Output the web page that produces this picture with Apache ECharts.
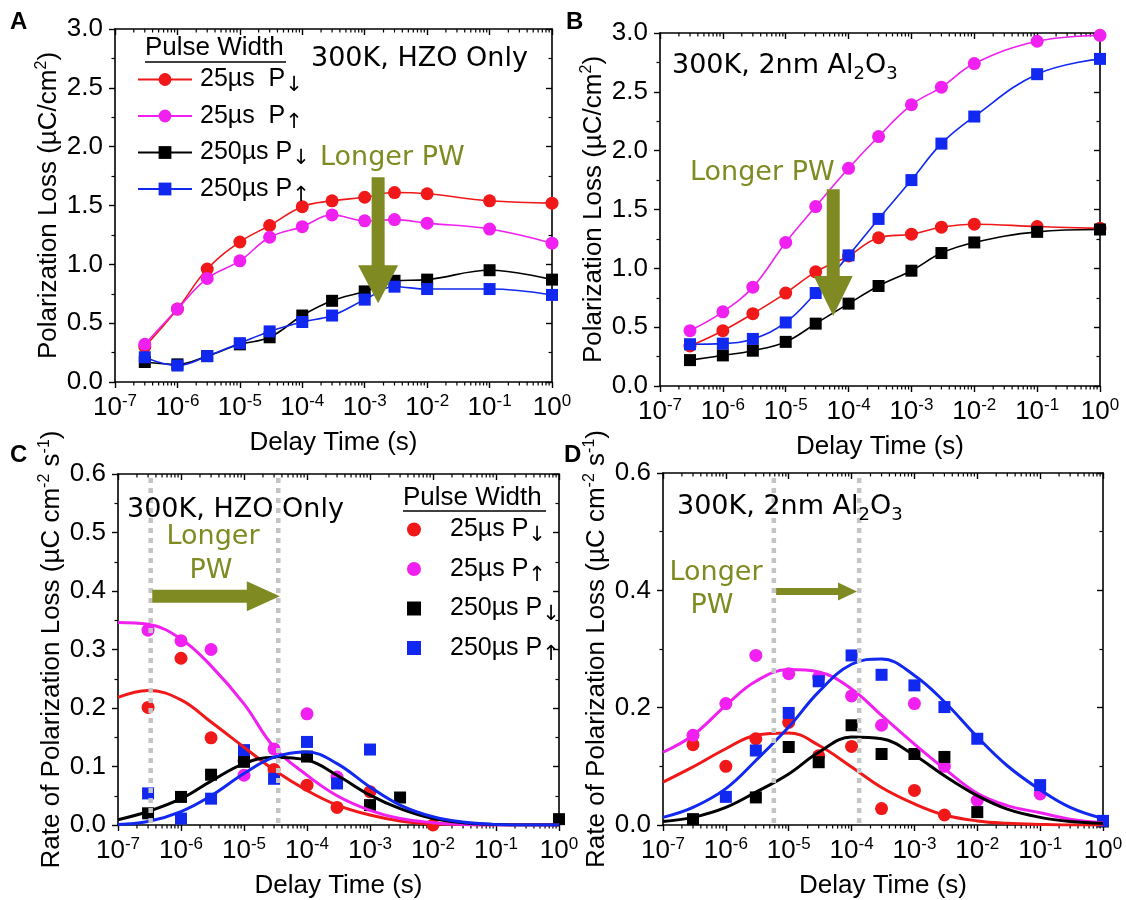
<!DOCTYPE html>
<html><head><meta charset="utf-8">
<script src="https://cdn.jsdelivr.net/npm/echarts@6/dist/echarts.min.js"></script>
<style>html,body{margin:0;padding:0;background:#fff}#c{width:1126px;height:900px}</style>
</head><body><div id="c"></div><script>
// ---------- data ----------
const xPoints = [3e-7, 1e-6, 3e-6, 1e-5, 3e-5, 1e-4, 3e-4, 1e-3, 3e-3, 1e-2, 1e-1, 1];
const fitX = [1e-7, 3e-7, 1e-6, 3e-6, 1e-5, 3e-5, 1e-4, 3e-4, 1e-3, 3e-3, 1e-2, 3e-2, 1e-1, 3e-1, 1];
const pulseLabels = ['25µs', '25µs', '250µs', '250µs'];
const polarity = ['↓', '↑', '↓', '↑'];

// Panel A: polarization loss, HZO only
const aDown25 = [0.30, 0.62, 0.96, 1.19, 1.33, 1.49, 1.54, 1.57, 1.61, 1.60, 1.54, 1.52];
const aUp25 = [0.32, 0.62, 0.88, 1.03, 1.23, 1.32, 1.42, 1.37, 1.38, 1.35, 1.30, 1.18];
const aDown250 = [0.17, 0.15, 0.22, 0.32, 0.38, 0.565, 0.69, 0.77, 0.86, 0.87, 0.95, 0.87];
const aUp250 = [0.21, 0.14, 0.22, 0.33, 0.43, 0.51, 0.565, 0.70, 0.81, 0.79, 0.79, 0.74];
// Panel B: polarization loss, 2nm Al2O3
const bDown25 = [0.34, 0.47, 0.615, 0.79, 0.97, 1.105, 1.26, 1.29, 1.35, 1.375, 1.355, 1.34];
const bUp25 = [0.47, 0.63, 0.84, 1.22, 1.525, 1.85, 2.12, 2.39, 2.54, 2.74, 2.93, 2.98];
const bDown250 = [0.22, 0.26, 0.30, 0.375, 0.53, 0.70, 0.85, 0.98, 1.13, 1.22, 1.31, 1.33];
const bUp250 = [0.355, 0.36, 0.40, 0.54, 0.79, 1.11, 1.42, 1.75, 2.06, 2.29, 2.65, 2.78];
// Panel C: rate of polarization loss, HZO only (points)
const cDown25 = [0.201, 0.285, 0.149, 0.11, 0.095, 0.068, 0.03, 0.057, null, 0.0, null, null];
const cUp25 = [0.333, 0.315, 0.30, 0.085, 0.13, 0.19, 0.082, null, null, null, null, null];
const cDown250 = [0.02, 0.048, 0.086, 0.108, null, 0.117, null, 0.034, 0.047, null, null, 0.01];
const cUp250 = [0.054, 0.011, 0.045, 0.128, 0.079, 0.142, 0.071, 0.129, null, null, null, null];
// Panel C fits
const cFitDown25 = [0.218, 0.230, 0.214, 0.176, 0.133, 0.094, 0.059, 0.034, 0.017, 0.007, 0.002, 0.001, 0, 0, 0];
const cFitUp25 = [0.346, 0.343, 0.318, 0.272, 0.207, 0.133, 0.085, 0.050, 0.025, 0.011, 0.004, 0.001, 0, 0, 0];
const cFitDown250 = [0.009, 0.023, 0.045, 0.075, 0.105, 0.116, 0.111, 0.085, 0.051, 0.028, 0.011, 0.004, 0.001, 0, 0];
const cFitUp250 = [0.001, 0.006, 0.023, 0.050, 0.088, 0.116, 0.125, 0.105, 0.065, 0.034, 0.014, 0.005, 0.001, 0, 0];
// Panel D: rate of polarization loss, 2nm Al2O3 (points)
const dDown25 = [0.137, 0.100, 0.147, 0.175, 0.118, 0.134, 0.028, 0.059, 0.017, null, null, null];
const dUp25 = [0.153, 0.207, 0.289, 0.258, 0.252, 0.22, 0.17, 0.207, 0.10, 0.042, 0.053, null];
const dDown250 = [0.01, null, 0.047, 0.133, 0.107, 0.17, 0.121, 0.121, 0.116, 0.022, null, 0.006];
const dUp250 = [null, 0.048, 0.127, 0.191, 0.245, 0.289, 0.256, 0.238, 0.201, 0.147, 0.068, 0.007];
// Panel D fits
const dFitDown25 = [0.073, 0.099, 0.130, 0.153, 0.157, 0.136, 0.099, 0.064, 0.036, 0.017, 0.007, 0.003, 0.001, 0, 0];
const dFitUp25 = [0.124, 0.153, 0.204, 0.245, 0.265, 0.261, 0.232, 0.187, 0.138, 0.096, 0.054, 0.033, 0.021, 0.010, 0.004];
const dFitDown250 = [0.006, 0.013, 0.030, 0.056, 0.087, 0.124, 0.150, 0.147, 0.119, 0.084, 0.050, 0.027, 0.013, 0.006, 0.003];
const dFitUp250 = [0.013, 0.030, 0.062, 0.110, 0.167, 0.227, 0.274, 0.283, 0.255, 0.210, 0.150, 0.101, 0.060, 0.030, 0.011];
// guide lines (delay times) in C and D
const cGuides = [3.3e-7, 3.5e-5];
const dGuides = [5.8e-6, 1.32e-4];

// ---------- style ----------
const F = '"Liberation Sans", Arial, sans-serif';
const FA = '"DejaVu Sans", Verdana, sans-serif';
const OLIVE = '#7f8b22';
const colors = ['#f01818', '#f020f0', '#000000', '#1028f0'];
const symbols = ['circle', 'circle', 'rect', 'rect'];
const grids = [
  {left: 115, top: 29, width: 437, height: 353},
  {left: 660, top: 33, width: 440, height: 353},
  {left: 118, top: 474, width: 441, height: 353},
  {left: 663, top: 473, width: 440, height: 353}
];
const yMax = [3, 3, 0.6, 0.6];
const yInt = [0.5, 0.5, 0.1, 0.2];
const yNames = [
  '{n|Polarization Loss (µC/cm}{sup|2}{n|)}',
  '{n|Polarization Loss (µC/cm}{sup|2}{n|)}',
  '{n|Rate of Polarization Loss (µC cm}{sup|-2}{n| s}{sup|-1}{n|)}',
  '{n|Rate of Polarization Loss (µC cm}{sup|-2}{n| s}{sup|-1}{n|)}'
];
const nameRich = {
  n: {fontSize: 26, fontFamily: F, color: '#000', lineHeight: 30},
  sup: {fontSize: 16, fontFamily: F, color: '#000', lineHeight: 16, verticalAlign: 'top'}
};

const chart = echarts.init(document.getElementById('c'), null, {renderer: 'canvas'});

const xAxes = [], yAxes = [];
for (let g = 0; g < 4; g++) {
  xAxes.push({
    type: 'log', logBase: 10, gridIndex: g, min: 1e-7, max: 1, position: 'bottom',
    axisLine: {show: true, onZero: false, lineStyle: {color: '#000', width: 1.6}},
    axisTick: {show: true, inside: false, length: 6, lineStyle: {color: '#000', width: 1.4}},
    axisLabel: {
      margin: 11,
      formatter: v => '{b|10}{e|' + Math.round(Math.log10(v)) + '}',
      rich: {
        b: {fontSize: 26, fontFamily: F, color: '#000', lineHeight: 30},
        e: {fontSize: 17, fontFamily: F, color: '#000', lineHeight: 17, verticalAlign: 'top'}
      }
    },
    splitLine: {show: false},
    name: 'Delay Time (s)', nameLocation: 'middle', nameGap: 48,
    nameTextStyle: {fontSize: 26, fontFamily: F, color: '#000'}
  });
}
for (let g = 0; g < 4; g++) {
  xAxes.push({
    type: 'log', logBase: 10, gridIndex: g, min: 1e-7, max: 1, position: 'top',
    axisLine: {show: true, onZero: false, lineStyle: {color: '#000', width: 1.6}},
    axisTick: {show: true, inside: true, length: 6, lineStyle: {color: '#000', width: 1.4}},
    axisLabel: {show: false}, splitLine: {show: false}
  });
}
for (let g = 0; g < 4; g++) {
  yAxes.push({
    type: 'value', gridIndex: g, min: 0, max: yMax[g], interval: yInt[g], position: 'left',
    axisLine: {show: true, onZero: false, lineStyle: {color: '#000', width: 1.6}},
    axisTick: {show: true, inside: false, length: 6, lineStyle: {color: '#000', width: 1.4}},
    minorTick: {show: true, splitNumber: 2, length: 3.5, lineStyle: {color: '#000', width: 1.2}},
    axisLabel: {fontSize: 26, fontFamily: F, color: '#000', margin: 12, formatter: v => v.toFixed(1)},
    splitLine: {show: false}, minorSplitLine: {show: false},
    name: yNames[g], nameLocation: 'middle', nameGap: 51,
    nameTextStyle: {rich: nameRich}
  });
}
for (let g = 0; g < 4; g++) {
  yAxes.push({
    type: 'value', gridIndex: g, min: 0, max: yMax[g], interval: yInt[g], position: 'right',
    axisLine: {show: true, onZero: false, lineStyle: {color: '#000', width: 1.6}},
    axisTick: {show: true, inside: true, length: 6, lineStyle: {color: '#000', width: 1.4}},
    minorTick: {show: true, splitNumber: 2, length: 3.5, lineStyle: {color: '#000', width: 1.2}},
    axisLabel: {show: false}, splitLine: {show: false}, minorSplitLine: {show: false}
  });
}

// minor ticks on the log axes (2..9 in each decade)
const minorTickValues = [];
for (let e = -7; e < 0; e++) for (let m = 2; m <= 9; m++) minorTickValues.push([m * Math.pow(10, e), 0]);

const series = [];
for (let g = 0; g < 4; g++) {
  series.push({
    type: 'custom', xAxisIndex: g, yAxisIndex: g, silent: true, data: minorTickValues, z: 1,
    renderItem: (params, api) => {
      const x = api.coord([api.value(0), api.value(1)])[0];
      const cs = params.coordSys;
      const st = {stroke: '#000', lineWidth: 1.2};
      return {type: 'group', children: [
        {type: 'line', shape: {x1: x, y1: cs.y + cs.height, x2: x, y2: cs.y + cs.height + 3.5}, style: st},
        {type: 'line', shape: {x1: x, y1: cs.y, x2: x, y2: cs.y + 3.5}, style: st}
      ]};
    }
  });
}

// dotted vertical guide lines in C and D
[[2, cGuides], [3, dGuides]].forEach(([g, xs]) => {
  series.push({
    type: 'custom', xAxisIndex: g, yAxisIndex: g, silent: true, z: 8,
    data: xs.map(x => [x, 0]),
    renderItem: (params, api) => {
      const x = api.coord([api.value(0), api.value(1)])[0];
      const cs = params.coordSys;
      return {type: 'line', shape: {x1: x, y1: cs.y + cs.height - 2, x2: x, y2: cs.y + 2},
        style: {stroke: '#c4c4c4', lineWidth: 4.5, lineDash: [5, 5]}};
    }
  });
});

const namesA = pulseLabels.map((p, i) => p + ' P' + polarity[i] + ' (HZO)');
const namesB = pulseLabels.map((p, i) => p + ' P' + polarity[i] + ' (Al2O3)');
const namesC = pulseLabels.map((p, i) => p + ' P' + polarity[i] + ' rate (HZO)');
const namesD = pulseLabels.map((p, i) => p + ' P' + polarity[i] + ' rate (Al2O3)');
const pair = (xs, ys) => xs.map((x, k) => [x, ys[k]]).filter(p => p[1] !== null);

function lineSeries(g, i, name, ys) {
  return {
    type: 'line', name, xAxisIndex: g, yAxisIndex: g, data: pair(xPoints, ys), smooth: 0.4,
    symbol: symbols[i], symbolSize: i < 2 ? 13 : 12,
    itemStyle: {color: colors[i]}, lineStyle: {color: colors[i], width: 1.6}, z: 3
  };
}
function scatterSeries(g, i, name, ys) {
  return {
    type: 'scatter', name, xAxisIndex: g, yAxisIndex: g, data: pair(xPoints, ys),
    symbol: symbols[i], symbolSize: i < 2 ? 13 : 12, itemStyle: {color: colors[i], opacity: 1}, z: 2
  };
}
function fitSeries(g, i, ys) {
  return {
    type: 'line', name: 'fit ' + g + '-' + i, xAxisIndex: g, yAxisIndex: g, data: pair(fitX, ys),
    smooth: 0.4, symbol: 'none', lineStyle: {color: colors[i], width: 3}, z: 3
  };
}
[aDown25, aUp25, aDown250, aUp250].forEach((d, i) => series.push(lineSeries(0, i, namesA[i], d)));
[bDown25, bUp25, bDown250, bUp250].forEach((d, i) => series.push(lineSeries(1, i, namesB[i], d)));
[cDown25, cUp25, cDown250, cUp250].forEach((d, i) => series.push(scatterSeries(2, i, namesC[i], d)));
[cFitDown25, cFitUp25, cFitDown250, cFitUp250].forEach((d, i) => series.push(fitSeries(2, i, d)));
[dDown25, dUp25, dDown250, dUp250].forEach((d, i) => series.push(scatterSeries(3, i, namesD[i], d)));
[dFitDown25, dFitUp25, dFitDown250, dFitUp250].forEach((d, i) => series.push(fitSeries(3, i, d)));

const legendTextA = ['25µs  P', '25µs  P', '250µs P', '250µs P'];
const legendTextC = ['25µs P', '25µs P', '250µs P', '250µs P'];
function legendRich(pad) {
  return {
    a: {fontSize: 25, fontFamily: F, color: '#000', lineHeight: 34, padding: [0, 0, 0, pad]},
    s: {fontSize: 21, fontFamily: FA, color: '#000', lineHeight: 22, verticalAlign: 'bottom'}
  };
}

chart.setOption({
  animation: false,
  backgroundColor: '#fff',
  grid: grids,
  xAxis: xAxes,
  yAxis: yAxes,
  legend: [
    {
      left: 132, top: 62, orient: 'vertical', itemWidth: 54, itemHeight: 16, itemGap: 7,
      selectedMode: false, data: namesA,
      formatter: n => { const i = namesA.indexOf(n); return '{a|' + legendTextA[i] + '}{s|' + polarity[i] + '}'; },
      textStyle: {rich: legendRich(3)}
    },
    {
      left: 402, top: 512, orient: 'vertical', itemWidth: 14, itemHeight: 14, itemGap: 10,
      selectedMode: false, data: namesC,
      formatter: n => { const i = namesC.indexOf(n); return '{a|' + legendTextC[i] + '}{s|' + polarity[i] + '}'; },
      textStyle: {rich: legendRich(24)}
    }
  ],
  series
});

// ---------- annotations ----------
const px = (g, x, y) => chart.convertToPixel({xAxisIndex: g, yAxisIndex: g}, [x, y]);
function downArrow(g, x, yFrom, yTo, shaft, head, headLen) {
  const [cx, y0] = px(g, x, yFrom);
  const y1 = px(g, x, yTo)[1];
  const s = shaft / 2, w = head / 2;
  return {type: 'polygon', z: 20, shape: {points: [[cx - s, y0], [cx + s, y0], [cx + s, y1 - headLen], [cx + w, y1 - headLen], [cx, y1], [cx - w, y1 - headLen], [cx - s, y1 - headLen]]}, style: {fill: OLIVE}};
}
function rightArrow(g, xFrom, xTo, y, shaft, head, headLen) {
  const [x0, cy] = px(g, xFrom, y);
  const x1 = px(g, xTo, y)[0];
  const s = shaft / 2, w = head / 2;
  return {type: 'polygon', z: 20, shape: {points: [[x0, cy - s], [x1 - headLen, cy - s], [x1 - headLen, cy - w], [x1, cy], [x1 - headLen, cy + w], [x1 - headLen, cy + s], [x0, cy + s]]}, style: {fill: OLIVE}};
}
const annRich = {
  t: {fontSize: 27, fontFamily: FA, color: '#000', lineHeight: 34},
  s: {fontSize: 18, fontFamily: FA, color: '#000', lineHeight: 18, verticalAlign: 'bottom'}
};
function txt(text, x, y, opts) {
  return {type: 'text', z: 30, style: Object.assign({text, x, y, fill: '#000', font: '27px ' + FA, textAlign: 'left', textVerticalAlign: 'middle'}, opts || {})};
}
function richTxt(text, x, y) {
  return {type: 'text', z: 30, style: {text, x, y, rich: annRich, textAlign: 'left', textVerticalAlign: 'middle'}};
}
const graphics = [
  // panel letters
  txt('A', 10, 22, {font: 'bold 24px ' + F}),
  txt('B', 566, 22, {font: 'bold 24px ' + F}),
  txt('C', 10, 455, {font: 'bold 24px ' + F}),
  txt('D', 564, 455, {font: 'bold 24px ' + F}),
  // condition labels
  txt('300K, HZO Only', 311, 59),
  richTxt('{t|300K, 2nm Al}{s|2}{t|O}{s|3}', 672, 66),
  txt('300K, HZO Only', 127, 510),
  richTxt('{t|300K, 2nm Al}{s|2}{t|O}{s|3}', 677, 507),
  // Longer PW
  txt('Longer PW', 320, 158, {fill: OLIVE}),
  txt('Longer PW', 690, 173, {fill: OLIVE}),
  txt('Longer', 213, 537, {fill: OLIVE, textAlign: 'center'}),
  txt('PW', 211, 571, {fill: OLIVE, textAlign: 'center'}),
  txt('Longer', 716, 573, {fill: OLIVE, textAlign: 'center'}),
  txt('PW', 712, 606, {fill: OLIVE, textAlign: 'center'}),
  // arrows
  downArrow(0, 1.64e-3, 1.74, 0.67, 13, 40, 38),
  downArrow(1, 5.7e-5, 1.673, 0.595, 13, 39, 40),
  rightArrow(2, 3.5e-7, 3.7e-5, 0.391, 13, 30, 33),
  rightArrow(3, 6.3e-6, 1.22e-4, 0.398, 7, 18, 19),
  // legend titles
  txt('Pulse Width', 145, 48, {font: '26px ' + F}),
  {type: 'line', z: 30, shape: {x1: 145, y1: 62, x2: 286, y2: 62}, style: {stroke: '#000', lineWidth: 1.6}},
  txt('Pulse Width', 403, 498, {font: '26px ' + F}),
  {type: 'line', z: 30, shape: {x1: 403, y1: 511, x2: 546, y2: 511}, style: {stroke: '#000', lineWidth: 1.6}}
];
chart.setOption({graphic: graphics});
</script></body></html>
